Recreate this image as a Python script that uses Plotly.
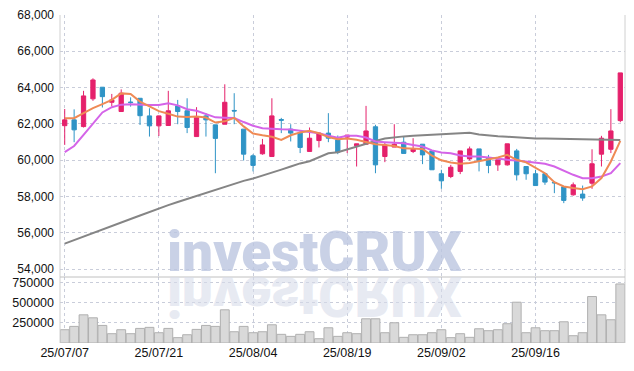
import plotly.graph_objects as go

dates = ["25/07/07","25/07/08","25/07/09","25/07/10","25/07/11",
         "25/07/14","25/07/15","25/07/16","25/07/17","25/07/18",
         "25/07/21","25/07/22","25/07/23","25/07/24","25/07/25",
         "25/07/28","25/07/29","25/07/30","25/07/31","25/08/01",
         "25/08/04","25/08/05","25/08/06","25/08/07","25/08/08",
         "25/08/11","25/08/12","25/08/13","25/08/14",
         "25/08/18","25/08/19","25/08/20","25/08/21","25/08/22",
         "25/08/25","25/08/26","25/08/27","25/08/28","25/08/29",
         "25/09/01","25/09/02","25/09/03","25/09/04","25/09/05",
         "25/09/08","25/09/09","25/09/10","25/09/11","25/09/12",
         "25/09/15","25/09/16","25/09/17","25/09/18","25/09/19",
         "25/09/22","25/09/23","25/09/24","25/09/25","25/09/26",
         "25/09/29"]

opens = [61900,62220,61850,63380,64020,63190,62680,63200,63410,62440,
         61890,61910,62990,62720,61300,62440,61945,61980,62740,61710,
         60240,60350,60200,62240,61710,61520,60480,61080,61490,61120,
         61270,60790,60880,61840,60200,60720,60990,60480,60880,60510,
         59250,59100,59380,60070,60620,60110,59740,59740,60510,59650,
         59250,59250,58770,58530,58090,58130,58730,60330,60600,62180]
highs = [62820,62800,63820,64510,64020,63650,63900,63460,63410,62860,
         62460,63820,63320,63410,62920,62590,61945,64180,63690,61710,
         60330,61170,63410,62330,61980,61580,61800,61490,62590,61360,
         61380,60900,62990,61950,60990,61980,61300,61210,60880,60510,
         59470,59740,60510,60750,60620,60290,60020,60900,60620,59650,
         59470,59250,58790,58530,58770,58600,60600,61340,62810,64810]
lows = [60840,60990,61800,63270,62900,62970,62680,62950,61940,61300,
        61330,61910,61980,61490,61300,61300,59280,61980,61980,59980,
        59380,60300,60200,61490,61030,60390,60480,60700,60990,60330,
        60390,59650,60880,59280,59890,60720,60370,60390,59780,59470,
        58420,59010,59230,59980,59380,59280,59410,59700,58880,58920,
        58600,58640,58180,57630,58040,57760,58420,59650,60390,62090]
closes = [62220,61670,63540,64420,63500,63320,63690,63180,62450,61890,
          62440,62720,62680,61800,62350,62220,61200,63190,62710,60330,
          59710,60840,62440,62200,61490,60700,61210,61490,61210,60440,
          61380,60900,61610,59740,60840,60880,60370,60600,60290,59470,
          58860,59610,60510,60620,59980,59710,60020,60900,59190,59250,
          58600,58790,58750,57780,58640,57910,59800,61210,61610,64810]

volumes = [164000,205000,348000,311000,217000,115000,164000,115000,180000,193000,
           127000,180000,66000,102000,168000,217000,205000,410000,139000,205000,
           127000,139000,225000,107000,82000,107000,139000,53000,188000,82000,
           127000,115000,299000,299000,127000,250000,70000,102000,102000,127000,
           164000,66000,115000,70000,176000,152000,164000,238000,504000,127000,
           188000,152000,152000,262000,90000,127000,574000,348000,287000,729000]

ma_short = [62310,62310,62590,62870,63090,63320,63680,63650,63230,62950,
            62700,62560,62400,62380,62400,62350,62070,62140,62330,61860,
            61470,61370,61290,61120,61370,61530,61620,61480,61270,61150,
            61190,61120,60990,60880,60840,60780,60650,60620,60620,60250,
            59990,59870,59800,59840,59930,60060,60150,60290,60020,59880,
            59600,59280,58790,58550,58460,58400,58550,59010,59930,61060]
ma_mid = [60440,60780,61390,62030,62630,62920,63060,63080,63040,63040,
          63040,63136,63020,62810,62720,62550,62360,62340,62320,62100,
          61900,61760,61720,61700,61690,61620,61560,61480,61350,61240,
          61350,61350,61250,61030,60990,60980,60930,60830,60750,60540,
          60420,60385,60257,60202,60200,60147,60073,60018,59981,59926,
          59871,59798,59651,59413,59192,59009,59009,59100,59284,59835]
ma_long = [55400,55600,55800,56000,56190,56380,56570,56760,56950,57150,
           57350,57520,57690,57860,58020,58200,58370,58560,58720,58860,
           58990,59140,59320,59480,59650,59820,59940,60150,60380,60440,
           60600,60750,60920,61060,61190,61260,61310,61350,61380,61410,
           61430,61460,61500,61510,61420,61350,61320,61290,61250,61210,
           61200,61190,61180,61170,61160,61150,61140,61130,61120,61110]

price_ticks = [54000,56000,58000,60000,62000,64000,66000,68000]
vol_ticks = [250000,500000,750000]
date_tick_idx = [0,10,20,30,40,50]

UP = "#e5206b"
DOWN = "#2f94c6"
GRID = "#c9cdda"
FONT = "Liberation Sans"
LABEL = "#111111"

fig = go.Figure()
fig.add_trace(go.Bar(x=dates, y=volumes, xaxis="x", yaxis="y2",
                     marker=dict(color="#d9d9d9", line=dict(color="#b0b0b0", width=1)),
                     hoverinfo="skip"))
fig.add_trace(go.Scatter(x=dates, y=ma_long, mode="lines", xaxis="x", yaxis="y",
                         line=dict(color="#858585", width=2)))
fig.add_trace(go.Scatter(x=dates, y=ma_mid, mode="lines", xaxis="x", yaxis="y",
                         line=dict(color="#d464e8", width=2)))
fig.add_trace(go.Scatter(x=dates, y=ma_short, mode="lines", xaxis="x", yaxis="y",
                         line=dict(color="#ef8a55", width=2)))
fig.add_trace(go.Candlestick(x=dates, open=opens, high=highs, low=lows, close=closes,
                             xaxis="x", yaxis="y",
                             increasing=dict(line=dict(color=UP, width=1), fillcolor=UP),
                             decreasing=dict(line=dict(color=DOWN, width=1), fillcolor=DOWN),
                             whiskerwidth=0))

split = 66 / 328
fig.update_layout(
    width=634, height=371,
    margin=dict(l=60, r=9, t=15, b=28, pad=0, autoexpand=False),
    paper_bgcolor="white", plot_bgcolor="white",
    showlegend=False, bargap=0.06, boxgap=0.35,
    font=dict(family=FONT, size=12, color=LABEL),
    xaxis=dict(type="category", anchor="y2", range=[-0.5, 59.5], automargin=False,
               tickvals=[dates[i] for i in date_tick_idx],
               ticktext=[dates[i] for i in date_tick_idx],
               showgrid=True, gridcolor=GRID, griddash="dot", gridwidth=1,
               zeroline=False, showline=False, ticks="",
               tickfont=dict(size=12.5, color=LABEL),
               rangeslider=dict(visible=False)),
    yaxis=dict(domain=[split, 1], range=[53560, 68000], tickvals=price_ticks, automargin=False,
               tickformat=",d", showgrid=True, gridcolor=GRID, griddash="dot",
               zeroline=False, ticks="", ticklabelstandoff=5,
               tickfont=dict(size=12, color=LABEL)),
    yaxis2=dict(domain=[0, split], range=[0, 815000], tickvals=vol_ticks, automargin=False,
                tickformat="d", showgrid=True, gridcolor=GRID, griddash="dot",
                zeroline=False, ticks="", ticklabelstandoff=5,
                tickfont=dict(size=12.5, color=LABEL)),
)

fig.add_shape(type="line", xref="paper", yref="paper", x0=0, x1=0, y0=0, y1=1,
              line=dict(color="#d0d0d0", width=1))
fig.add_shape(type="line", xref="paper", yref="paper", x0=1, x1=1, y0=0, y1=1,
              line=dict(color="#d0d0d0", width=1))
fig.add_shape(type="line", xref="paper", yref="paper", x0=0, x1=1, y0=split, y1=split,
              line=dict(color="#c0c0c0", width=1))

fig.add_annotation(text="investCRUX", xref="paper", yref="paper", x=0.451, y=0.276,
                   xanchor="center", yanchor="middle", showarrow=False,
                   font=dict(family="Roboto", size=55, color="rgba(188,198,224,0.8)", weight=900))
fig.add_annotation(text="investCRUX", xref="paper", yref="paper", x=0.451, y=0.142,
                   xanchor="center", yanchor="middle", showarrow=False,
                   font=dict(family="Roboto", size=55, color="rgba(215,220,234,0.6)", weight=900))

post = """
document.body.style.margin = '0';
document.body.style.padding = '0';
var gd = document.getElementById('{plot_id}');
var t = gd.querySelectorAll('.annotation-text');
if (t.length > 1) {
  var el = t[1];
  el.style.transformBox = 'fill-box';
  el.style.transformOrigin = 'center';
  el.style.transform = 'scaleY(-1)';
}
"""
fig.write_html("out.html", post_script=post, config={"displayModeBar": False})
